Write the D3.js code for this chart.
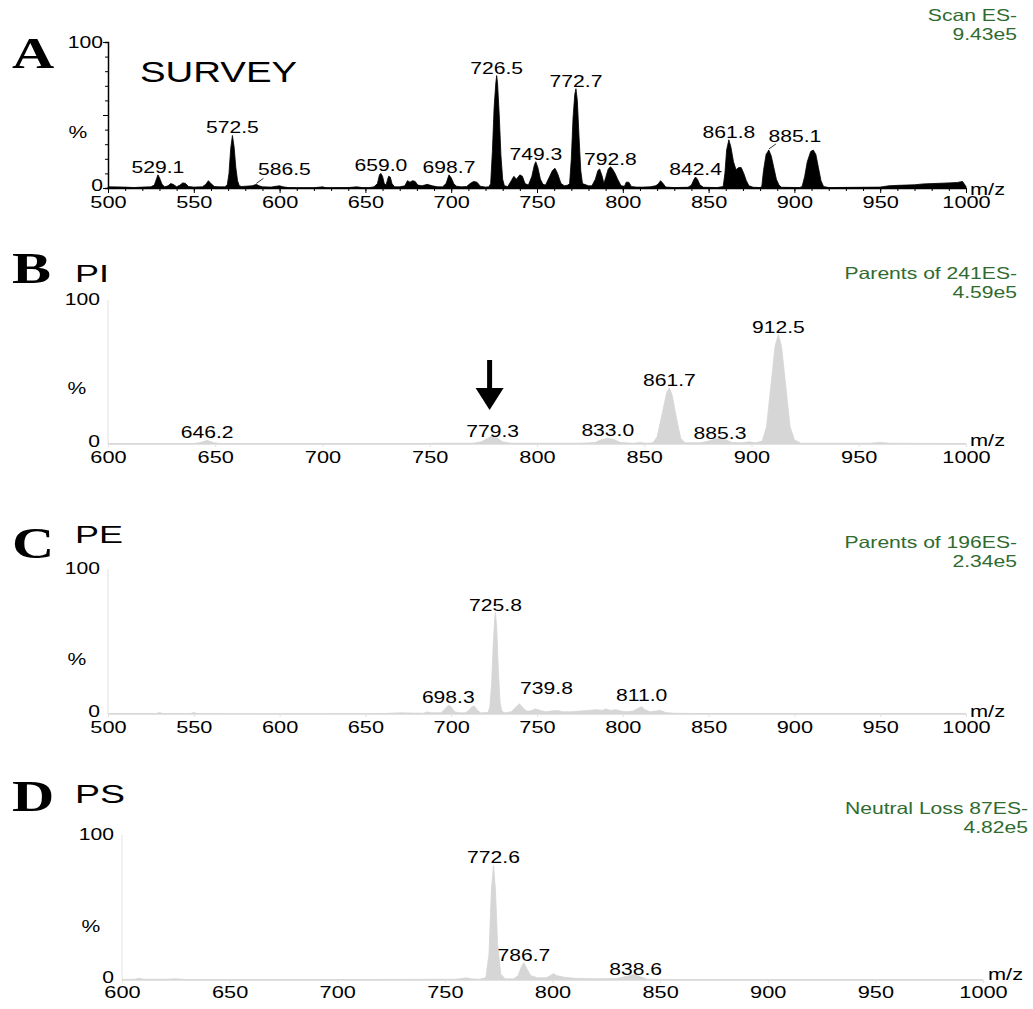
<!DOCTYPE html>
<html>
<head>
<meta charset="utf-8">
<script src="https://cdn.jsdelivr.net/npm/d3@7"></script>
<style>
  body { margin: 0; background: #fff; }
  svg text { font-family: "Liberation Sans", Arial, sans-serif; }
</style>
</head>
<body>
<svg id="chart" width="1033" height="1009"></svg>
<script>
// ---- data: [m/z, % intensity] profile points ----
var survey = [
  [500,0.8],[510,0.6],[515,0.3],[520,0.6],[525,0.8],
  [527,2],[528.5,7],[529.1,9],[530,7],[531.5,2.5],[533,0.8],
  [535,1.5],[536.5,3],[538,2.5],[540,0.8],[542,2],[543.5,3.5],[545,3.2],[547,1],
  [550,0.6],[555,0.8],[557,2.5],[558.5,5],[560,3],[562,1],[565,0.8],[568,0.8],
  [569.5,2],[570.5,10],[571.5,27],[572.5,36],[573.5,28],[574.5,14],[575.5,5],[576.5,1.5],[578,1],
  [580,1.2],[584,1.5],[586.5,2.5],[588,1.5],[590,0.8],[595,0.6],[598,1.2],[600,1.5],[602,0.8],
  [605,0.3],[610,0.2],[620,0.2],[625,0.8],[627,0.2],[640,0.3],[645,0.8],[648,0.3],[652,0.2],[655,0.8],
  [657,3],[658.2,9],[659,10],[660,8],[661,3],[662,2],[663.5,8],[664.5,7.5],[665.5,3],[667,0.8],[670,0.8],
  [673,1.5],[674.5,5],[676,4],[677.5,5],[679,4.5],[680.5,2],[683,1.5],[686,2.5],[689,1.5],[692,0.8],[695,0.8],
  [697,3],[698.7,9],[700,7],[701.5,3],[703,1.2],[706,0.8],[709,1],
  [711,3],[713,4.5],[715,4],[717,1.2],[720,0.6],[722,0.8],
  [723,3],[724,25],[725,55],[726,72],[726.5,77],[727,72],[728,50],[729,22],[730,6],[731,1.5],[733,1],
  [735,5],[736.5,8],[738,6],[740,9],[741.5,8],[743,3],[745,2],[747,8],[748.5,16],[749.3,18],
  [750.5,14],[752,6],[753.5,2.5],[755,2],[757,7],[759,12],[760.5,13.5],[762,10],[764,3],[766,1.5],[768,2],
  [769,3],[770,20],[771,48],[772,64],[772.7,68],[773.5,60],[774.5,35],[775.5,12],[776.5,3],[780,1.5],[782,1.5],
  [784,6],[785.5,12],[786.5,13],[788,8],[789,3],[790,7],[791.5,13],[792.8,14.5],[794,13],[795.5,10],
  [797,6],[799,1.5],[801,1.2],[802,4],[803.5,4],[805,1],[808,0.6],[812,0.6],[816,0.8],
  [819,1.5],[820.5,2.5],[822,5],[823.5,3],[825,0.6],[830,0.3],[838,0.5],
  [840,2],[841.5,6],[842.4,7.5],[843.5,6],[845,2],[847,0.5],[855,0.3],
  [858.5,1],[859.5,10],[860.5,26],[861.8,33],[863,28],[864.5,18],[866,12.5],[867.5,14],[869,14],[870.5,10],
  [872,5],[873.5,1.5],[876,0.5],[880,0.3],
  [881,1],[882,12],[883.5,23],[885.1,26],[886.5,22],[888,14],[889.5,6],[891,2],[892.5,0.5],[903,0.3],
  [904.5,1],[906,8],[907.5,18],[909.5,25],[911,26],[912.5,23],[914,14],[915.5,5],[917,1],[920,0.3],
  [950,0.6],[955,1.5],[960,1.8],[970,2.2],[975,2.8],[980,3],[990,3.5],[995,3.8],[998,4.5],[1000,1]
];
var parentsPI = [
  [600,0.3],[640,0.3],[643,1],[646.2,2.5],[649,1],[652,0.3],[700,0.3],[745,0.3],[755,0.5],[770,0.5],
  [774,1.5],[777,4],[779.3,6],[781.5,4],[784,1.5],[788,0.5],[820,0.5],[827,1],[830,3],[833,4],[836,3],
  [839,1],[845,0.5],[848,1],[851,0.5],[854,0.8],[856,5],[858.5,22],[860.5,36],[861.7,39],[863,34],
  [865,18],[867,4],[869,0.8],[876,0.8],[880,2],[884,4],[885.3,4],[888,3],[891,1],[895,0.8],[899,1.5],
  [902,0.8],[905,2],[907,12],[909,40],[911,68],[912.5,76],[914,68],[916,40],[918,12],[920,3],[923,0.5],
  [955,0.5],[960,1],[965,0.5],[1000,0.3]
];
var parentsPE = [
  [500,0.3],[528,0.3],[530,1],[532,0.3],[548,0.3],[550,1],[552,0.3],[600,0.2],[660,0.3],[670,0.8],
  [684,0.5],[686,1.5],[688,0.8],[694,0.8],[696,3],[698.3,6],[700,5],[702,1.5],[705,0.8],[708,0.8],
  [710,2],[712,5],[713.5,5.5],[715,3],[717,0.8],[721.5,1],[722.5,5],[723.5,20],[724.5,48],[725.3,65],
  [725.8,70],[726.5,60],[727.5,30],[728.5,8],[729.5,2],[731,0.8],[735,1.5],[737,4],[739.8,7],[742,4],[744,2],[746,2],
  [749,3.5],[752,2.5],[755,1.5],[758,2],[762,2.5],[765,1.5],[770,1.5],[775,2],[780,2.5],[785,3],
  [788,2.5],[790,3.5],[793,2.5],[796,3],[799,2],[802,1.5],[806,2],[809,4],[811,5],[813,3],[816,1.5],
  [819,2],[822,2.5],[825,1],[830,0.5],[850,0.3],[1000,0.3]
];
var lossPS = [
  [600,0.3],[606,0.5],[608,1.2],[610,0.5],[620,0.5],[625,0.8],[630,0.3],[700,0.3],[755,0.5],[758,1],
  [760,1.5],[762,0.8],[766,0.5],[769,1.5],[770.5,18],[771.6,62],[772.6,79],[773.5,62],[774.5,25],
  [776,4],[778,0.8],[782,0.8],[784,3],[785.5,9],[786.7,12],[788,8],[790,3],[793,1.5],[797,1.5],
  [799,3],[800.5,4.5],[802,3],[805,2],[810,1.2],[815,1],[820,0.8],[830,1],[834,2.5],[837,3.5],
  [838.6,4],[841,2],[844,0.5],[860,0.3],[1000,0.3]
];

var surveyLabels = ["529.1","572.5","586.5","659.0","698.7","726.5","749.3","772.7","792.8","842.4","861.8","885.1"];
var piLabels = ["646.2","779.3","833.0","861.7","885.3","912.5"];
var peLabels = ["698.3","725.8","739.8","811.0"];
var psLabels = ["772.6","786.7","838.6"];

var panelLetters = ["A","B","C","D"];
var panelNames = ["SURVEY","PI","PE","PS"];
var scanTitles = ["Scan ES-","Parents of 241ES-","Parents of 196ES-","Neutral Loss 87ES-"];
var scanMax = ["9.43e5","4.59e5","2.34e5","4.82e5"];
var mzDomains = [[500,1000],[600,1000],[500,1000],[600,1000]];
var spectra = [survey, parentsPI, parentsPE, lossPS];
var peakLabels = [surveyLabels, piLabels, peLabels, psLabels];

// ---- layout ----
var SX = 1.28;   // the original figure is stretched sideways
var green = "#2f6b2f";
var layout = [
  {x0:108, x1:966, top:42,  base:188, letterY:68,  nameX:140, nameY:82,  nameSize:30,
   titleX:1017, titleY:21,  pctX:78, pctY:138, mzX:970, mzY:195, tickY:20, dark:true,
   offsets:{"586.5":[28,-7,true], "885.1":[26,-6,true]}},
  {x0:108, x1:966, top:300, base:444, letterY:283, nameX:75, nameY:282, nameSize:24,
   titleX:1017, titleY:279, pctX:77, pctY:394, mzX:970, mzY:446, tickY:19,
   offsets:{"779.3":[0,4], "885.3":[0,3]}},
  {x0:108, x1:966, top:569, base:714, letterY:558, nameX:75, nameY:543, nameSize:24,
   titleX:1017, titleY:548, pctX:77, pctY:665, mzX:970, mzY:717, tickY:19,
   offsets:{"739.8":[27,-8], "811.0":[0,-4]}},
  {x0:122, x1:983, top:835, base:980, letterY:811, nameX:75, nameY:803, nameSize:25,
   titleX:1028, titleY:814, pctX:91, pctY:932, mzX:988, mzY:980, tickY:18,
   offsets:{"838.6":[0,3]}}
];

var svg = d3.select("#chart");

function txt(g, x, y, s, o) {
  o = o || {};
  return g.append("text")
    .attr("transform", "translate(" + x + "," + y + ") scale(" + (o.sx || SX) + ",1)")
    .attr("text-anchor", o.anchor || "start")
    .attr("font-size", o.size || 16.5)
    .attr("fill", o.fill || "#000")
    .style("font-family", o.family || null)
    .attr("font-weight", o.weight || null)
    .text(s);
}

function apexNear(data, m) {
  var near = data.filter(d => Math.abs(d[0] - m) <= 1.2);
  return d3.max(near, d => d[1]) || 0;
}

layout.forEach(function(L, i) {
  var g = svg.append("g");
  var data = spectra[i];
  var x = d3.scaleLinear().domain(mzDomains[i]).range([L.x0, L.x1]);
  var y = d3.scaleLinear().domain([0, 100]).range([L.base, L.top]);
  var axisCol = L.dark ? "#000" : "#e2e2e2";

  // spectrum
  var area = d3.area()
    .x(d => x(d[0]))
    .y0(L.base)
    .y1(d => y(d[1]));
  g.append("path")
    .datum(data)
    .attr("d", area)
    .attr("fill", L.dark ? "#000" : "#d6d6d6")
    .attr("stroke", L.dark ? "#000" : "#d6d6d6")
    .attr("stroke-width", 0.8);

  // x axis
  var ticks = d3.range(mzDomains[i][0], 1001, 50);
  if (L.dark) {
    g.append("g")
      .attr("transform", "translate(0," + L.base + ")")
      .call(d3.axisBottom(x).tickValues(d3.range(mzDomains[i][0], 1001, 10)).tickSize(3).tickFormat(""))
      .call(a => a.select(".domain").remove())
      .selectAll("line").attr("stroke", "#000");
  }
  var xa = g.append("g")
    .attr("transform", "translate(0," + L.base + ")")
    .call(d3.axisBottom(x).tickValues(ticks).tickSize(L.dark ? 5 : 3).tickSizeOuter(0).tickFormat(d3.format("d")));
  xa.select(".domain").attr("stroke", axisCol).attr("stroke-width", L.dark ? 1.5 : 1);
  xa.selectAll(".tick line").attr("stroke", axisCol);
  xa.selectAll(".tick text")
    .attr("y", L.tickY).attr("dy", 0)
    .attr("transform", "scale(" + SX + ",1)")
    .attr("font-size", 17)
    .attr("fill", "#000")
    .style("font-family", "'Liberation Sans', Arial, sans-serif");

  // y axis
  if (L.dark) {
    var ya = g.append("g")
      .attr("transform", "translate(" + L.x0 + ",0)")
      .call(d3.axisLeft(y).tickValues(d3.range(0, 101, 10)).tickSize(3).tickFormat(""));
    ya.select(".domain").attr("stroke", "#000").attr("stroke-width", 1.5);
    ya.selectAll(".tick line").attr("stroke", "#000")
      .attr("x2", d => d % 50 === 0 ? -5 : -3);
  } else {
    g.append("line")
      .attr("x1", L.x0).attr("x2", L.x0)
      .attr("y1", L.top).attr("y2", L.base)
      .attr("stroke", axisCol);
  }
  var lx = L.dark ? L.x0 - 5 : L.x0 - 8;
  txt(g, lx, L.top + (L.dark ? 6 : 5), "100", {anchor: "end"});
  txt(g, lx, L.base + 3, "0", {anchor: "end"});
  txt(g, L.pctX, L.pctY, "%", {anchor: "middle"});
  txt(g, L.mzX, L.mzY, "m/z", {size: 17});

  // peak labels
  peakLabels[i].forEach(function(s) {
    var m = +s, h = apexNear(data, m);
    var off = L.offsets[s] || [0, 0];
    var px = x(m), py = y(h);
    txt(g, px + off[0], py - 2 + off[1], s, {anchor: "middle"});
    if (off[2]) {
      g.append("line")
        .attr("x1", px).attr("y1", py - 1)
        .attr("x2", px + 7).attr("y2", py - 6)
        .attr("stroke", "#000").attr("stroke-width", 0.8);
    }
  });

  // panel letter and name
  txt(g, 12, L.letterY, panelLetters[i], {size: 45, weight: "bold", family: "'Liberation Serif', 'Times New Roman', serif", sx: 1.3});
  txt(g, L.nameX, L.nameY, panelNames[i], {size: L.nameSize, sx: i === 0 ? SX : 1.5});

  // scan header
  txt(g, L.titleX, L.titleY, scanTitles[i], {anchor: "end", fill: green, size: 16.5});
  txt(g, L.titleX, L.titleY + 19, scanMax[i], {anchor: "end", fill: green, size: 16.5});
});

// arrow in panel B pointing at the 779.3 peak
(function() {
  var L = layout[1];
  var x = d3.scaleLinear().domain(mzDomains[1]).range([L.x0, L.x1]);
  var ax = x(779.3) - 3;
  svg.append("rect").attr("x", ax - 2.5).attr("y", 360).attr("width", 5).attr("height", 30).attr("fill", "#000");
  svg.append("path")
    .attr("d", d3.line()([[ax - 14, 388], [ax + 14, 388], [ax, 410]]) + "Z")
    .attr("fill", "#000");
})();
</script>
</body>
</html>
